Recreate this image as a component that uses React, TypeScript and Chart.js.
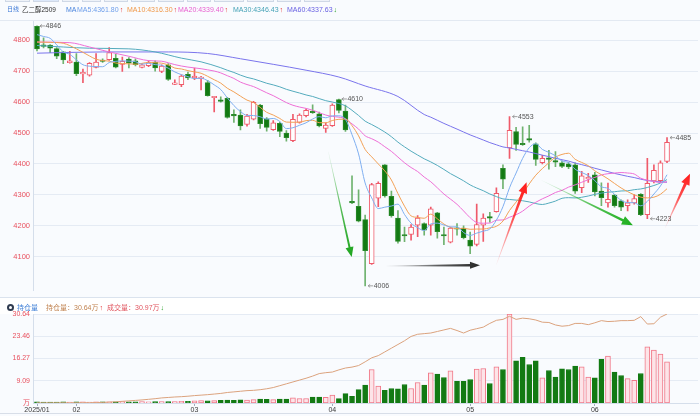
import React, { useEffect, useRef } from 'react';
import { Chart, registerables } from 'chart.js';

Chart.register(...registerables);

// ---------------- data ----------------
const opens = [
  4845, 4784, 4784, 4773, 4762, 4727, 4729, 4691, 4687, 4712,
  4735, 4737, 4741, 4722, 4739, 4733, 4712, 4718, 4729, 4699,
  4720, 4657, 4656, 4690, 4678, 4676, 4663, 4614, 4607, 4612,
  4560, 4558, 4528, 4545, 4590, 4546, 4511, 4531, 4500, 4475,
  4534, 4556, 4571, 4562, 4515, 4524, 4608, 4571, 4277, 4263,
  4220, 4078, 4289, 4397, 4295, 4225, 4170, 4172, 4202, 4207,
  4202, 4242, 4169, 4147, 4193, 4193, 4154, 4140, 4202, 4228,
  4246, 4386, 4452, 4505, 4465, 4480, 4465, 4404, 4418, 4411,
  4404, 4400, 4397, 4323, 4352, 4365, 4312, 4274, 4299, 4281,
  4265, 4274, 4302, 4236, 4345, 4346, 4408,
];
const highs = [
  4846, 4808, 4786, 4776, 4764, 4764, 4757, 4707, 4728, 4757,
  4740, 4776, 4754, 4745, 4744, 4740, 4724, 4733, 4733, 4720,
  4724, 4672, 4688, 4697, 4710, 4683, 4670, 4618, 4617, 4615,
  4575, 4575, 4560, 4602, 4593, 4550, 4540, 4535, 4508, 4560,
  4562, 4578, 4591, 4568, 4533, 4594, 4610, 4590, 4362, 4316,
  4235, 4337, 4342, 4398, 4312, 4249, 4196, 4204, 4233, 4210,
  4261, 4244, 4196, 4196, 4207, 4200, 4180, 4270, 4239, 4244,
  4323, 4397, 4553, 4518, 4520, 4525, 4468, 4428, 4444, 4440,
  4410, 4405, 4404, 4376, 4370, 4373, 4339, 4338, 4302, 4284,
  4284, 4301, 4304, 4418, 4397, 4410, 4485,
];
const lows = [
  4765, 4775, 4760, 4740, 4724, 4726, 4685, 4663, 4684, 4710,
  4728, 4735, 4710, 4699, 4710, 4717, 4710, 4714, 4700, 4695,
  4670, 4656, 4650, 4672, 4672, 4639, 4619, 4568, 4600, 4548,
  4534, 4510, 4522, 4542, 4515, 4506, 4508, 4488, 4474, 4472,
  4532, 4552, 4563, 4520, 4502, 4521, 4565, 4505, 4272, 4213,
  4006, 4075, 4262, 4293, 4228, 4144, 4149, 4154, 4165, 4170,
  4170, 4160, 4139, 4145, 4170, 4158, 4110, 4135, 4150, 4212,
  4244, 4320, 4418, 4444, 4460, 4470, 4395, 4400, 4383, 4391,
  4388, 4385, 4305, 4307, 4340, 4297, 4265, 4260, 4260, 4249,
  4248, 4270, 4233, 4223, 4339, 4340, 4404,
];
const closes = [
  4772, 4780, 4774, 4748, 4736, 4733, 4692, 4694, 4725, 4729,
  4731, 4760, 4713, 4732, 4726, 4721, 4720, 4728, 4710, 4716,
  4673, 4660, 4684, 4678, 4684, 4679, 4621, 4616, 4602, 4550,
  4555, 4523, 4555, 4599, 4530, 4518, 4533, 4505, 4485, 4544,
  4558, 4573, 4566, 4523, 4526, 4590, 4573, 4510, 4274, 4215,
  4120, 4333, 4337, 4297, 4233, 4150, 4167, 4196, 4225, 4186,
  4255, 4181, 4167, 4193, 4189, 4162, 4134, 4204, 4225, 4225,
  4305, 4351, 4509, 4463, 4462, 4477, 4415, 4418, 4415, 4406,
  4392, 4390, 4312, 4362, 4356, 4310, 4291, 4286, 4265, 4260,
  4274, 4288, 4236, 4337, 4379, 4404, 4470,
];
// 成交量 (万)
const volumes = [
  0.8, 0.7, 0.6, 0.7, 0.8, 0.7, 0.9, 0.8, 0.7, 0.8,
  0.9, 0.8, 0.9, 1.0, 0.8, 0.9, 1.0, 0.9, 1.1, 1.0,
  1.1, 1.0, 1.2, 1.3, 1.6, 1.8, 1.7, 1.9, 2.0, 2.2,
  2.1, 2.3, 2.2, 2.6, 3.0, 2.8, 2.5, 3.0, 2.9, 3.8,
  3.4, 3.4, 4.5, 4.5, 4.2, 6.0, 3.3, 7.1, 5.1, 10.1,
  13.4, 25.2, 12.8, 9.6, 10.9, 10.6, 13.9, 10.9, 15.4, 13.4,
  22.7, 21.7, 19.2, 24.2, 16.4, 16.4, 17.7, 25.5, 26.0, 14.7,
  27.2, 25.2, 67.0, 31.7, 34.3, 29.0, 31.7, 18.9, 24.5, 19.6,
  25.7, 25.2, 27.7, 27.2, 19.6, 18.9, 32.8, 35.3, 23.2, 20.7,
  18.4, 17.1, 22.2, 42.3, 39.8, 36.8, 30.97,
];
// 持仓量 (万)
const openInterest = [
  1.95, 1.95, 1.96, 1.96, 1.97, 1.98, 1.99, 2.0, 2.02, 2.05,
  2.1, 2.2, 2.3, 2.45, 2.6, 2.75, 2.9, 3.1, 3.3, 3.55,
  3.7, 3.85, 3.95, 4.1, 4.3, 4.45, 4.6, 4.8, 5.0, 5.3,
  5.5, 5.7, 5.9, 6.0, 6.2, 6.5, 6.9, 7.5, 8.1, 8.7,
  9.3, 9.9, 10.6, 11.4, 11.7, 11.9, 12.6, 13.2, 13.5, 14.0,
  15.2, 16.5, 17.2, 18.4, 19.6, 20.8, 22.0, 23.4, 24.1, 24.3,
  24.5, 25.0, 25.5, 26.0, 25.3, 24.5, 25.4, 25.9, 26.4, 27.6,
  28.6, 28.9, 29.9, 28.9, 29.3, 29.1, 28.7, 28.0, 27.9, 27.1,
  26.7, 26.9, 27.6, 27.6, 27.2, 27.8, 28.5, 28.2, 28.3, 28.5,
  28.5, 28.6, 29.8, 27.4, 27.5, 29.6, 30.64,
];
const monthTickIdx = [0, 6, 24, 45, 66, 85];
const monthLabels = ['2025/01', '02', '03', '04', '05', '06'];
const priceTicks = [4100, 4200, 4300, 4400, 4500, 4600, 4700, 4800];
const oiTicks = [1.91, 9.09, 16.27, 23.46, 30.64];
const oiTickLabels = ['万', '9.09', '16.27', '23.46', '30.64'];

// moving-average periods, values shown in header, and the start of each line
// (before enough candles exist in this window) as [index, price]
const maPeriods = [5, 10, 20, 30, 60];
const maHeaderValues = ['4361.80', '4316.30', '4339.40', '4346.43', '4337.63'];
const maLead5 = [[0, 4818], [1, 4812], [2, 4806], [3, 4785]];
const maLead10 = [[0, 4794], [2, 4793], [4, 4790], [6, 4772], [8, 4749]];
const maLead20 = [[0, 4794], [5, 4792], [8, 4778], [11, 4762], [14, 4748], [17, 4734]];
const maLead30 = [[0, 4783], [4, 4778], [8, 4774], [14, 4772], [18, 4762], [22, 4742], [25, 4730], [28, 4711]];
const maLead60 = [[0, 4758], [10, 4762], [20, 4762], [26, 4757], [31, 4740], [36, 4722], [41, 4703], [46, 4681], [50, 4652], [55, 4618]];

// extreme-price marks: candle index and which end
const markIdx = [0, 46, 50, 72, 93, 96];
const markKind = ['high', 'high', 'low', 'high', 'low', 'high'];

// hand-drawn arrows in data coordinates [index, price]
const arrowFrom = [[44.4, 4439], [53.3, 4070], [70.0, 4075], [76.9, 4347], [95.7, 4193]];
const arrowTo = [[47.95, 4099], [67.5, 4073], [74.6, 4341], [90.8, 4202], [99.5, 4368]];

// ---------------- styles ----------------
const FONT = '"Liberation Sans", "Noto Sans CJK SC", sans-serif';
const RED = '#ef5a6a';
const GREEN = '#137a13';
const maColors = ['#7eaef0', '#f2a156', '#ee6fd6', '#54abbd', '#7a74ec'];
const maTextColors = ['#6f9fea', '#f0994a', '#e85fcf', '#45a2b6', '#6961e2'];
const arrowRgb = ['30,165,30', '40,40,40', '255,25,25', '30,175,30', '255,25,25'];
const arrowHead = [[10, 8], [10, 7], [11, 9], [11, 9], [11, 9]];
const arrowShaft = [[0.4, 2], [0.4, 2.6], [0.4, 3], [0.4, 2.6], [0.4, 3]];
const X_MIN = -0.61;
const X_MAX = 100.72;
const AXIS_W = 33;

function buildMA(n: number, lead: number[][]) {
  const pts: { x: number; y: number }[] = lead.map(([x, y]) => ({ x, y }));
  let sum = 0;
  for (let i = 0; i < closes.length; i++) {
    sum += closes[i];
    if (i >= n) sum -= closes[i - n];
    if (i >= n - 1) pts.push({ x: i, y: sum / n });
  }
  return pts;
}

function drawArrow(ctx: CanvasRenderingContext2D, x1: number, y1: number, x2: number, y2: number,
  rgb: string, headLen: number, headW: number, w0: number, w1: number) {
  const dx = x2 - x1, dy = y2 - y1;
  const len = Math.hypot(dx, dy);
  const ux = dx / len, uy = dy / len;
  const nx = -uy, ny = ux;
  const bx = x2 - ux * headLen, by = y2 - uy * headLen;
  const g = ctx.createLinearGradient(x1, y1, x2, y2);
  g.addColorStop(0, `rgba(${rgb},0.05)`);
  g.addColorStop(0.55, `rgba(${rgb},0.75)`);
  g.addColorStop(1, `rgba(${rgb},1)`);
  ctx.fillStyle = g;
  ctx.beginPath();
  ctx.moveTo(x1 + nx * w0 / 2, y1 + ny * w0 / 2);
  ctx.lineTo(bx + nx * w1 / 2, by + ny * w1 / 2);
  ctx.lineTo(bx + nx * headW / 2, by + ny * headW / 2);
  ctx.lineTo(x2, y2);
  ctx.lineTo(bx - nx * headW / 2, by - ny * headW / 2);
  ctx.lineTo(bx - nx * w1 / 2, by - ny * w1 / 2);
  ctx.lineTo(x1 - nx * w0 / 2, y1 - ny * w0 / 2);
  ctx.closePath();
  ctx.fill();
}

const notesPlugin = {
  id: 'notes',
  afterDatasetsDraw(chart: any) {
    const ctx: CanvasRenderingContext2D = chart.ctx;
    const xs = chart.scales.x, ys = chart.scales.y;
    ctx.save();
    ctx.font = `7px ${FONT}`;
    ctx.textBaseline = 'middle';
    markIdx.forEach((i, k) => {
      const v = markKind[k] === 'high' ? highs[i] : lows[i];
      const px = xs.getPixelForValue(i), py = ys.getPixelForValue(v);
      ctx.strokeStyle = '#8c8c8c';
      ctx.lineWidth = 0.8;
      ctx.beginPath();
      ctx.moveTo(px + 3, py); ctx.lineTo(px + 8, py);
      ctx.moveTo(px + 5, py - 1.5); ctx.lineTo(px + 3, py); ctx.lineTo(px + 5, py + 1.5);
      ctx.stroke();
      ctx.fillStyle = '#555';
      ctx.textAlign = 'left';
      ctx.fillText(String(v), px + 8.5, py + 0.5);
    });
    arrowFrom.forEach((f, k) => {
      const t = arrowTo[k];
      drawArrow(ctx,
        xs.getPixelForValue(f[0]), ys.getPixelForValue(f[1]),
        xs.getPixelForValue(t[0]), ys.getPixelForValue(t[1]),
        arrowRgb[k], arrowHead[k][0], arrowHead[k][1], arrowShaft[k][0], arrowShaft[k][1]);
    });
    ctx.restore();
  },
};

export default function App() {
  const mainRef = useRef<HTMLCanvasElement>(null);
  const volRef = useRef<HTMLCanvasElement>(null);

  useEffect(() => {
    Chart.defaults.font.family = FONT;
    const up = closes.map((c, i) => c >= opens[i]);
    const leads = [maLead5, maLead10, maLead20, maLead30, maLead60];

    const maSets = maPeriods.map((n, k) => ({
      type: 'line' as const,
      data: buildMA(n, leads[k]),
      borderColor: maColors[k],
      borderWidth: 1,
      pointRadius: 0,
      cubicInterpolationMode: 'monotone' as const,
      order: 0,
    }));

    const main = new Chart(mainRef.current!, {
      type: 'bar',
      data: {
        datasets: [
          ...maSets,
          {
            type: 'bar',
            data: closes.map((c, i) => ({ x: i, y: [opens[i], c] })) as any,
            backgroundColor: up.map(u => (u ? '#ffffff' : GREEN)),
            borderColor: up.map(u => (u ? RED : '#2a8a2a')),
            borderWidth: 1,
            borderSkipped: false,
            barThickness: 5,
            minBarLength: 1.5,
            grouped: false,
            order: 2,
          },
          {
            type: 'bar',
            data: highs.map((h, i) => ({ x: i, y: [lows[i], h] })) as any,
            backgroundColor: up.map(u => (u ? RED : '#6fb26f')),
            borderWidth: 0,
            barThickness: 1,
            grouped: false,
            order: 3,
          },
        ] as any,
      },
      options: {
        animation: false,
        responsive: false,
        maintainAspectRatio: false,
        layout: { padding: { top: 21, bottom: 1, right: 2, left: 0 } },
        plugins: { legend: { display: false }, tooltip: { enabled: false } },
        scales: {
          x: { type: 'linear', min: X_MIN, max: X_MAX, offset: false, display: false },
          y: {
            type: 'linear',
            min: 3991,
            max: 4862,
            afterFit: (s: any) => { s.width = AXIS_W; },
            afterBuildTicks: (s: any) => { s.ticks = priceTicks.map(v => ({ value: v })); },
            ticks: { color: '#e8505e', font: { size: 7.5 }, padding: 3, callback: (v: any) => String(v) },
            grid: { color: '#e5ebf4', drawTicks: false },
            border: { color: '#d5deeb' },
          },
        },
      } as any,
      plugins: [notesPlugin],
    });

    const vol = new Chart(volRef.current!, {
      type: 'bar',
      data: {
        datasets: [
          {
            type: 'line',
            data: openInterest.map((v, i) => ({ x: i, y: v })),
            yAxisID: 'yOI',
            borderColor: '#dba27d',
            borderWidth: 1,
            pointRadius: 0,
            order: 0,
          },
          {
            type: 'bar',
            data: volumes.map((v, i) => ({ x: i, y: v })),
            yAxisID: 'yVol',
            backgroundColor: up.map(u => (u ? '#fde4e8' : GREEN)),
            borderColor: up.map(u => (u ? '#f07888' : GREEN)),
            borderWidth: 1,
            borderSkipped: false,
            barThickness: 5,
            grouped: false,
            order: 1,
          },
        ] as any,
      },
      options: {
        animation: false,
        responsive: false,
        maintainAspectRatio: false,
        layout: { padding: { top: 16, bottom: 0, right: 2, left: 0 } },
        plugins: { legend: { display: false }, tooltip: { enabled: false } },
        scales: {
          x: {
            type: 'linear',
            min: X_MIN,
            max: X_MAX,
            offset: false,
            afterFit: (s: any) => { s.height = 13; },
            afterBuildTicks: (s: any) => { s.ticks = monthTickIdx.map(v => ({ value: v })); },
            ticks: {
              color: '#3a3a3a',
              font: { size: 7 },
              padding: 0,
              autoSkip: false,
              maxRotation: 0,
              callback: (_v: any, idx: number) => monthLabels[idx],
            },
            grid: { drawOnChartArea: false, drawTicks: true, tickLength: 3, color: '#9fabbd', offset: false },
            border: { color: '#d5deeb' },
          },
          yOI: {
            type: 'linear',
            position: 'left',
            min: oiTicks[0],
            max: oiTicks[oiTicks.length - 1],
            afterFit: (s: any) => { s.width = AXIS_W; },
            afterBuildTicks: (s: any) => { s.ticks = oiTicks.map(v => ({ value: v })); },
            ticks: {
              color: '#e8505e',
              font: { size: 7 },
              padding: 3,
              callback: (_v: any, idx: number) => oiTickLabels[idx],
            },
            grid: { color: '#e5ebf4', drawTicks: false },
            border: { color: '#d5deeb' },
          },
          yVol: {
            type: 'linear',
            display: false,
            min: 0,
            max: Math.max(...volumes),
          },
        },
      } as any,
    });

    return () => {
      main.destroy();
      vol.destroy();
    };
  }, []);

  const tabs = [5, 33, 62, 82, 104, 131, 158, 187, 214, 247, 277, 304, 333];
  const maLefts = [77, 127, 178, 233, 287];
  const maArrowUp = [true, true, true, true, false];

  const txt = (left: number, top: number, color: string, s: string, size = 7) => (
    <span style={{ position: 'absolute', left, top, color, fontSize: size, lineHeight: '9px', whiteSpace: 'nowrap' }}>{s}</span>
  );

  return (
    <div style={{ position: 'absolute', left: 0, top: 0, width: 700, height: 416, background: '#f9fbfe', overflow: 'hidden', fontFamily: FONT }}>
      {tabs.slice(0, -1).map((l, k) => (
        <div key={k} style={{ position: 'absolute', left: l, top: -8, width: tabs[k + 1] - l - 3, height: 10, boxSizing: 'border-box', border: '1px solid #cfd8e6', background: k === 1 ? '#dce8fa' : '#eef2f8' }} />
      ))}
      <div style={{ position: 'absolute', left: 0, top: 20, width: 700, height: 1, background: '#e3e9f2' }} />
      <div style={{ position: 'absolute', left: 0, top: 297, width: 700, height: 1, background: '#dbe3ee' }} />
      <div style={{ position: 'absolute', left: 0, top: 298, width: 700, height: 16, background: '#ffffff' }} />
      <div style={{ position: 'absolute', left: 0, top: 413, width: 700, height: 1, background: '#d8dee8' }} />
      <canvas ref={mainRef} width={700} height={298} style={{ position: 'absolute', left: 0, top: 0, width: 700, height: 298 }} />
      <canvas ref={volRef} width={700} height={118} style={{ position: 'absolute', left: 0, top: 298, width: 700, height: 118 }} />

      {txt(7, 5, '#3d79d6', '日线', 6)}
      {txt(22, 5, '#333333', '乙二醇2509', 6.5)}
      {txt(66, 5, '#4a84dc', 'MA')}
      {maPeriods.map((n, k) => (
        <span key={n} style={{ position: 'absolute', left: maLefts[k], top: 5, fontSize: 7, lineHeight: '9px', whiteSpace: 'nowrap' }}>
          <span style={{ color: maTextColors[k] }}>{`MA${n}:${maHeaderValues[k]}`}</span>
          <span style={{ color: maArrowUp[k] ? '#e3201f' : '#1c9a1c', marginLeft: 1 }}>{maArrowUp[k] ? '↑' : '↓'}</span>
        </span>
      ))}

      <div style={{ position: 'absolute', left: 7, top: 303.5, width: 7, height: 7, borderRadius: 4, background: '#2f3b50' }}>
        <div style={{ position: 'absolute', left: 2, top: 2, width: 3, height: 3, borderRadius: 2, background: '#ffffff' }} />
      </div>
      {txt(17, 303, '#3f7fd6', '持仓量')}
      <span style={{ position: 'absolute', left: 46, top: 303, fontSize: 7, lineHeight: '9px', whiteSpace: 'nowrap' }}>
        <span style={{ color: '#c0824f' }}>持仓量：30.64万</span>
        <span style={{ color: '#e3201f', marginLeft: 1 }}>↑</span>
        <span style={{ color: '#e0555f', marginLeft: 4 }}>成交量：30.97万</span>
        <span style={{ color: '#1c9a1c', marginLeft: 1 }}>↓</span>
      </span>
    </div>
  );
}
